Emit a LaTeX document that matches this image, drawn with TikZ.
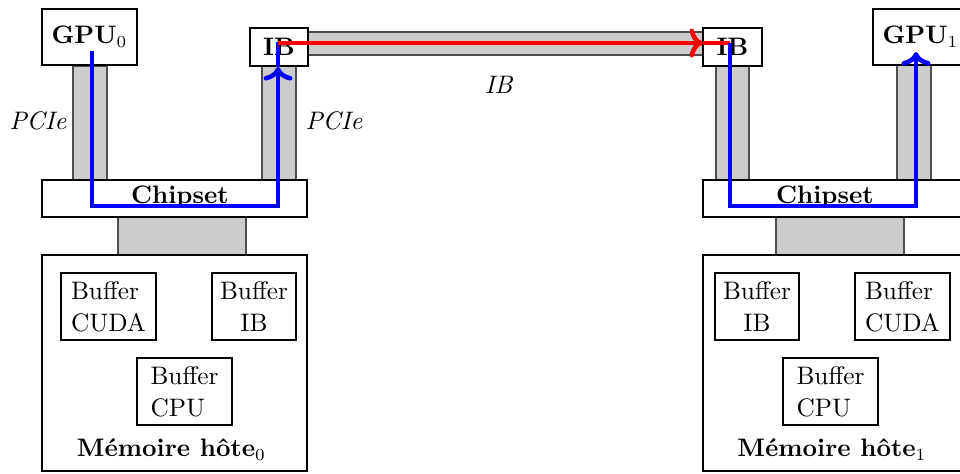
\documentclass[tikz,border=0pt]{standalone}
\usetikzlibrary{arrows.meta}
\begin{document}
\begin{tikzpicture}[x=0.415pt,y=-0.415pt,
  every node/.style={font=\fontsize{10.5}{13.2}\selectfont},
  boxst/.style={draw=black,line width=0.85pt,fill=white,inner sep=0pt},
  barst/.style={draw=black!70,line width=0.5pt,fill=black!20},
  bl/.style={draw=blue,line width=1.9pt},
  rd/.style={draw=red,line width=1.9pt},
  tip/.style={-{To[length=5.6pt,width=12pt]}},
  lbl/.style={inner sep=0pt}]
\newcommand\bx[6][]{\node[boxst,#1,minimum width={(#4-#2)*0.415pt},minimum height={(#5-#3)*0.415pt}] (#6) at ({(#2+#4)/2},{(#3+#5)/2})}
\useasboundingbox (0,0) rectangle (960,474);
% links / buses
\draw[barst] (73,66) rectangle (107,180);
\draw[barst] (262,66) rectangle (296,180);
\draw[barst] (118,217) rectangle (246,255);
\draw[barst] (308,32) rectangle (703,55);
\draw[barst] (716,66) rectangle (749,180);
\draw[barst] (897,65) rectangle (931,180);
\draw[barst] (776,217) rectangle (904,255);
% host 0
\bx{42}{9}{137}{65}{gpu0} {\textbf{GPU}$_0$};
\bx{250}{28}{308}{66}{ib0} {\textbf{IB}};
\bx{42}{180}{307}{217}{chip0} {};
\bx{42}{255}{307}{471}{mem0} {};
\bx[align=left]{61}{273}{156}{340}{bc0} {Buffer\\CUDA};
\bx[align=center]{212}{273}{296}{340}{bi0} {Buffer\\IB};
\bx[align=left]{137}{358}{232}{425}{bp0} {Buffer\\CPU};
\node[lbl] (chipt0) at (180,197) {\textbf{Chipset}};
\node[lbl] (memt0) at (171.5,450) {\textbf{Mémoire hôte}$_0$};
% host 1
\bx{873}{9}{968}{65}{gpu1} {\textbf{GPU}$_1$};
\bx{703}{28}{762}{66}{ib1} {\textbf{IB}};
\bx{703}{180}{968}{217}{chip1} {};
\bx{703}{255}{968}{471}{mem1} {};
\bx[align=center]{715}{273}{799}{340}{bi1} {Buffer\\IB};
\bx[align=left]{855}{273}{950}{340}{bc1} {Buffer\\CUDA};
\bx[align=left]{783}{358}{878}{425}{bp1} {Buffer\\CPU};
\node[lbl] (chipt1) at (825,197) {\textbf{Chipset}};
\node[lbl] (memt1) at (832,450) {\textbf{Mémoire hôte}$_1$};
% labels
\node[lbl] (pcieL) at (38,121) {\textit{PCIe}};
\node[lbl] (pcieR) at (334,121) {\textit{PCIe}};
\node[lbl] (ibl) at (499,85) {\textit{IB}};
% paths
\coordinate (a0) at (92,51);
\coordinate (a1) at (278,206);
\coordinate (a2) at (278,67);
\coordinate (a3) at (278,42);
\coordinate (r0) at (278,43);
\coordinate (r1) at (703,43);
\coordinate (r2) at (730,43);
\coordinate (b1) at (916,206);
\coordinate (b2) at (916,52);
\draw[bl,tip] (a0) |- (a1) -- (a2);
\draw[bl] (a2) -- (a3);
\draw[rd,tip] (r0) -- (r1);
\draw[rd] (r1) -- (r2);
\draw[bl,tip] (r2) |- (b1) -- (b2);
\end{tikzpicture}
\end{document}
